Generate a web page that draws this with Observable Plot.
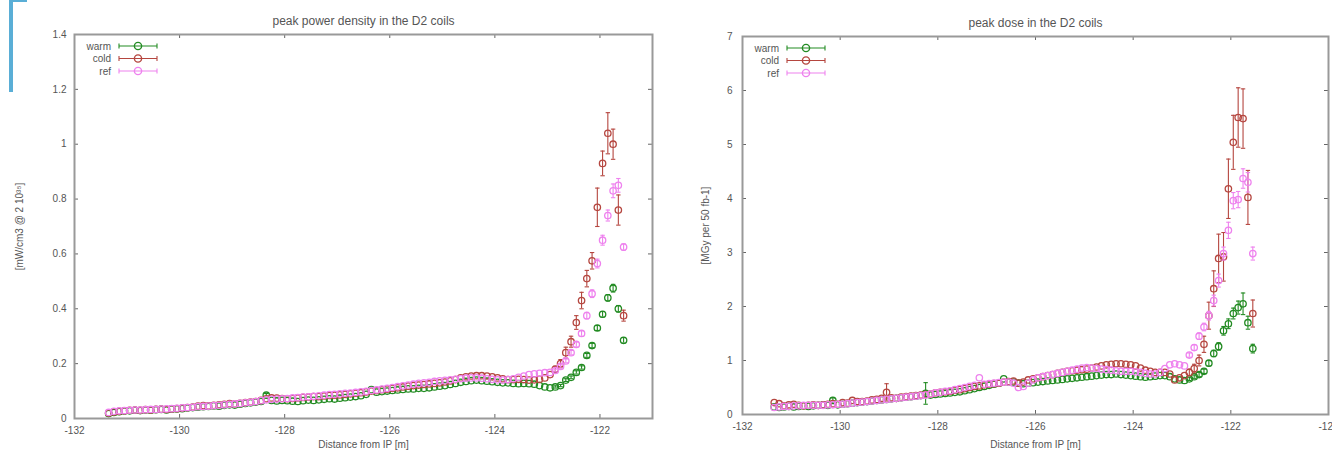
<!DOCTYPE html>
<html><head><meta charset="utf-8">
<script src="https://cdn.jsdelivr.net/npm/d3@7"></script>
<script src="https://cdn.jsdelivr.net/npm/@observablehq/plot@0.6"></script>
<style>
html,body{margin:0;padding:0;background:#fff;}
#wrap{position:relative;width:1332px;height:459px;overflow:hidden;background:#fff;}
#left{position:absolute;left:0;top:0;}
#right{position:absolute;left:660px;top:0;}
#blue{position:absolute;left:9px;top:-1px;width:14px;height:90px;border-left:4px solid #5aaed6;border-top:3px solid #5aaed6;}
</style></head><body>
<div id="wrap"><div id="left"></div><div id="right"></div><div id="blue"></div></div>
<script>
// ---------- data ----------
const seriesNames = ["warm", "cold", "ref"];
const seriesColors = ["#228b22", "#b5463f", "#ee82ee"];

const positions = [
-131.35,-131.25,-131.15,-131.05,-130.95,-130.85,-130.75,-130.65,-130.55,-130.45,
-130.35,-130.25,-130.15,-130.05,-129.95,-129.85,-129.75,-129.65,-129.55,-129.45,
-129.35,-129.25,-129.15,-129.05,-128.95,-128.85,-128.75,-128.65,-128.55,-128.45,
-128.35,-128.25,-128.15,-128.05,-127.95,-127.85,-127.75,-127.65,-127.55,-127.45,
-127.35,-127.25,-127.15,-127.05,-126.95,-126.85,-126.75,-126.65,-126.55,-126.45,
-126.35,-126.25,-126.15,-126.05,-125.95,-125.85,-125.75,-125.65,-125.55,-125.45,
-125.35,-125.25,-125.15,-125.05,-124.95,-124.85,-124.75,-124.65,-124.55,-124.45,
-124.35,-124.25,-124.15,-124.05,-123.95,-123.85,-123.75,-123.65,-123.55,-123.45,
-123.35,-123.25,-123.15,-123.05,-122.95,
-122.85,-122.75,-122.65,-122.55,-122.45,-122.35,-122.25,-122.15,-122.05,-121.95,-121.85,-121.75,-121.65,-121.55];
// positions of the last 14 bins, where error bars are large
const tailPositions = [-122.85,-122.75,-122.65,-122.55,-122.45,-122.35,-122.25,-122.15,-122.05,-121.95,-121.85,-121.75,-121.65,-121.55];

// peak power density [mW/cm3 @ 2 10^35]
const powerWarm = [
0.018,0.022,0.025,0.027,0.028,0.030,0.029,0.031,0.030,0.032,
0.033,0.031,0.034,0.035,0.036,0.038,0.040,0.041,0.043,0.044,
0.046,0.045,0.048,0.050,0.049,0.052,0.055,0.057,0.060,0.062,
0.085,0.066,0.064,0.066,0.065,0.063,0.062,0.065,0.067,0.066,
0.068,0.070,0.072,0.071,0.074,0.076,0.078,0.080,0.083,0.088,
0.105,0.096,0.098,0.100,0.102,0.104,0.106,0.108,0.108,0.110,
0.110,0.112,0.115,0.118,0.120,0.124,0.128,0.132,0.135,0.138,
0.140,0.138,0.136,0.134,0.132,0.130,0.130,0.128,0.127,0.128,
0.127,0.125,0.120,0.115,0.112,
0.115,0.120,0.140,0.150,0.168,0.186,0.230,0.266,0.330,0.380,0.440,0.475,0.400,0.285];
const powerCold = [
0.020,0.024,0.026,0.028,0.030,0.031,0.030,0.032,0.031,0.033,
0.034,0.033,0.035,0.036,0.038,0.040,0.042,0.045,0.047,0.046,
0.048,0.050,0.052,0.054,0.053,0.055,0.058,0.060,0.062,0.066,
0.072,0.075,0.074,0.073,0.072,0.073,0.075,0.077,0.078,0.080,
0.080,0.082,0.084,0.085,0.086,0.088,0.090,0.092,0.094,0.097,
0.100,0.102,0.105,0.107,0.110,0.112,0.115,0.118,0.120,0.122,
0.124,0.126,0.128,0.130,0.133,0.137,0.142,0.148,0.152,0.155,
0.156,0.156,0.155,0.152,0.148,0.145,0.142,0.142,0.143,0.142,
0.140,0.141,0.143,0.148,0.160,
0.180,0.200,0.240,0.280,0.350,0.430,0.510,0.575,0.770,0.930,1.040,1.000,0.760,0.375];
const powerRef = [
0.022,0.026,0.028,0.029,0.030,0.031,0.031,0.032,0.033,0.033,
0.034,0.035,0.036,0.037,0.039,0.040,0.041,0.043,0.044,0.045,
0.047,0.048,0.050,0.052,0.053,0.055,0.057,0.059,0.062,0.065,
0.068,0.070,0.071,0.072,0.073,0.075,0.076,0.078,0.079,0.081,
0.083,0.085,0.087,0.088,0.090,0.092,0.093,0.095,0.097,0.099,
0.102,0.104,0.107,0.110,0.113,0.116,0.119,0.122,0.125,0.128,
0.130,0.132,0.135,0.137,0.139,0.141,0.143,0.145,0.147,0.148,
0.148,0.147,0.145,0.143,0.141,0.140,0.142,0.145,0.150,0.155,
0.160,0.163,0.165,0.167,0.168,
0.175,0.190,0.210,0.240,0.270,0.310,0.375,0.455,0.565,0.650,0.740,0.830,0.850,0.625];
const powerWarmErr = [0.004,0.004,0.005,0.005,0.006,0.006,0.007,0.008,0.009,0.010,0.012,0.014,0.012,0.010];
const powerColdErr = [0.010,0.015,0.020,0.020,0.025,0.030,0.030,0.030,0.070,0.045,0.075,0.055,0.055,0.020];
const powerRefErr  = [0.005,0.006,0.007,0.008,0.009,0.010,0.012,0.014,0.016,0.018,0.020,0.025,0.025,0.012];
const powerExtraErr = [["warm", -128.35, 0.006]];

// peak dose [MGy per 50 fb-1]
const doseWarm = [
0.14,0.13,0.14,0.15,0.14,0.15,0.16,0.15,0.16,0.17,
0.18,0.17,0.26,0.18,0.19,0.20,0.21,0.22,0.23,0.24,
0.25,0.26,0.27,0.28,0.29,0.30,0.31,0.32,0.33,0.34,
0.35,0.39,0.36,0.37,0.38,0.39,0.40,0.41,0.42,0.44,
0.46,0.48,0.50,0.52,0.54,0.56,0.58,0.66,0.60,0.60,
0.58,0.57,0.58,0.59,0.60,0.61,0.62,0.63,0.64,0.65,
0.66,0.67,0.68,0.69,0.70,0.71,0.72,0.73,0.74,0.74,
0.75,0.74,0.73,0.72,0.71,0.70,0.69,0.70,0.71,0.72,
0.72,0.70,0.66,0.64,0.63,
0.66,0.70,0.74,0.80,0.95,1.13,1.26,1.55,1.68,1.87,1.98,2.05,1.70,1.22];
const doseCold = [
0.22,0.20,0.16,0.18,0.19,0.17,0.16,0.17,0.18,0.17,
0.18,0.19,0.20,0.19,0.22,0.21,0.26,0.24,0.24,0.25,
0.27,0.28,0.30,0.41,0.31,0.30,0.32,0.33,0.34,0.35,
0.36,0.37,0.38,0.40,0.41,0.42,0.43,0.45,0.46,0.48,
0.50,0.52,0.53,0.55,0.56,0.57,0.58,0.60,0.61,0.62,
0.58,0.60,0.64,0.66,0.68,0.70,0.72,0.74,0.76,0.78,
0.80,0.81,0.82,0.83,0.84,0.86,0.88,0.90,0.92,0.93,
0.94,0.94,0.93,0.92,0.90,0.86,0.82,0.80,0.78,0.78,
0.78,0.75,0.64,0.68,0.72,
0.78,0.85,1.00,1.30,1.83,2.33,2.89,2.92,4.18,5.04,5.50,5.48,4.02,1.87];
const doseRef = [
0.13,0.14,0.15,0.15,0.16,0.16,0.17,0.17,0.17,0.17,
0.17,0.18,0.18,0.19,0.19,0.20,0.21,0.22,0.23,0.24,
0.25,0.26,0.27,0.28,0.29,0.30,0.31,0.32,0.33,0.34,
0.35,0.36,0.38,0.40,0.41,0.43,0.44,0.46,0.48,0.50,
0.52,0.54,0.68,0.56,0.57,0.58,0.59,0.60,0.60,0.58,
0.50,0.52,0.58,0.64,0.68,0.70,0.72,0.74,0.76,0.78,
0.80,0.82,0.84,0.86,0.87,0.86,0.85,0.84,0.83,0.82,
0.81,0.80,0.80,0.80,0.79,0.78,0.76,0.75,0.75,0.78,
0.85,0.92,0.94,0.92,0.90,
1.10,1.24,1.45,1.62,1.83,2.11,2.48,2.98,3.41,3.96,3.98,4.37,4.30,2.98];
const doseWarmErr = [0.03,0.03,0.04,0.04,0.05,0.06,0.07,0.08,0.09,0.10,0.12,0.20,0.12,0.08];
const doseColdErr = [0.06,0.08,0.10,0.15,0.25,0.33,0.45,0.45,0.55,0.50,0.55,0.55,0.50,0.25];
const doseRefErr  = [0.04,0.05,0.06,0.07,0.08,0.10,0.12,0.12,0.15,0.15,0.15,0.18,0.18,0.12];
const doseExtraErr = [["cold", -129.05, 0.16], ["warm", -128.25, 0.20], ["warm", -130.15, 0.05]];

const powerXTicks = [-132, -130, -128, -126, -124, -122];
const powerYTicks = [0, 0.2, 0.4, 0.6, 0.8, 1, 1.2, 1.4];
const doseXTicks = [-132, -130, -128, -126, -124, -122, -120];
const doseYTicks = [0, 1, 2, 3, 4, 5, 6, 7];

// ---------- drawing ----------
const FONT = "'Liberation Sans', Arial, Helvetica, sans-serif";
const capSymbol = {draw(ctx, size) { const w = Math.sqrt(size / Math.PI); ctx.moveTo(-w, 0); ctx.lineTo(w, 0); }};

function makeRows(values, tailErr, extra, name) {
  return positions.map((x, i) => {
    const t = tailPositions.indexOf(x);
    let e = t >= 0 ? tailErr[t] : 0;
    for (const [s, px, pe] of extra) if (s === name && px === x) e = pe;
    return {x, y: values[i], e};
  });
}

function chart(cfg) {
  const {width, height, ml, mr, mt, mb} = cfg;
  const pw = width - ml - mr, ph = height - mt - mb;
  const marks = [];
  const tickColor = "#666";
  marks.push(Plot.tickX(cfg.xTicks, {x: d => d, insetTop: ph - 4, stroke: tickColor}));
  marks.push(Plot.tickX(cfg.xTicks, {x: d => d, insetBottom: ph - 4, stroke: tickColor}));
  marks.push(Plot.tickY(cfg.yTicks, {y: d => d, insetRight: pw - 4, stroke: tickColor}));
  marks.push(Plot.tickY(cfg.yTicks, {y: d => d, insetLeft: pw - 4, stroke: tickColor}));
  marks.push(Plot.axisX({ticks: cfg.xTicks, tickSize: 0, tickPadding: 8, tickFormat: d => String(d), label: null, fontSize: 10, color: "#555"}));
  marks.push(Plot.axisY({ticks: cfg.yTicks, tickSize: 0, tickPadding: cfg.yPad, tickFormat: d => String(d), label: null, fontSize: 10, color: "#555"}));
  cfg.series.forEach((rows, k) => {
    const col = seriesColors[k];
    const er = rows.filter(d => d.e > 0);
    marks.push(Plot.ruleX(er, {x: "x", y1: d => d.y - d.e, y2: d => d.y + d.e, stroke: col, strokeWidth: 1.1}));
    marks.push(Plot.dot(er, {x: "x", y: d => d.y - d.e, symbol: capSymbol, r: 2.2, stroke: col, fill: "none", strokeWidth: 1.1}));
    marks.push(Plot.dot(er, {x: "x", y: d => d.y + d.e, symbol: capSymbol, r: 2.2, stroke: col, fill: "none", strokeWidth: 1.1}));
    marks.push(Plot.dot(rows, {x: "x", y: "y", r: 3.2, stroke: col, fill: "none", strokeWidth: 1.3}));
  });
  marks.push(Plot.frame({stroke: "#999", strokeWidth: 2}));
  marks.push(Plot.text([cfg.title], {text: d => d, frameAnchor: "top", dy: -18, fontSize: 12, fill: "#555"}));
  marks.push(Plot.text([cfg.xLabel], {text: d => d, frameAnchor: "bottom", dy: cfg.xLabelDy, fontSize: 10, fill: "#555"}));
  marks.push(Plot.text([cfg.yLabel], {text: d => d, frameAnchor: "left", dx: cfg.yLabelDx, rotate: -90, textAnchor: "middle", fontSize: 10, fill: "#555"}));
  const svg = Plot.plot({
    width, height, marginLeft: ml, marginRight: mr, marginTop: mt, marginBottom: mb,
    style: {fontFamily: FONT, fontSize: "10px", background: "white", color: "#555"},
    x: {domain: cfg.xDomain, axis: null},
    y: {domain: cfg.yDomain, axis: null},
    marks
  });
  // key (legend), top-left inside the frame
  const g = d3.select(svg).append("g").attr("font-family", FONT).attr("font-size", 10);
  seriesNames.forEach((name, k) => {
    const y = mt + 12 + k * 12.5, col = seriesColors[k];
    g.append("text").attr("x", ml + 37).attr("y", y).attr("dy", "0.35em").attr("text-anchor", "end").attr("fill", "#555").text(name);
    const x1 = ml + 45, x2 = ml + 83, xc = (x1 + x2) / 2;
    g.append("line").attr("x1", x1).attr("x2", x2).attr("y1", y).attr("y2", y).attr("stroke", col).attr("stroke-width", 1.1);
    g.append("line").attr("x1", x1).attr("x2", x1).attr("y1", y - 2.5).attr("y2", y + 2.5).attr("stroke", col).attr("stroke-width", 1.1);
    g.append("line").attr("x1", x2).attr("x2", x2).attr("y1", y - 2.5).attr("y2", y + 2.5).attr("stroke", col).attr("stroke-width", 1.1);
    g.append("circle").attr("cx", xc).attr("cy", y).attr("r", 3.6).attr("fill", "none").attr("stroke", col).attr("stroke-width", 1.4);
  });
  return svg;
}

const left = chart({
  width: 660, height: 459, ml: 74, mr: 8, mt: 34, mb: 41, yPad: 8,
  xDomain: [-132, -121], yDomain: [0, 1.4], xTicks: powerXTicks, yTicks: powerYTicks,
  title: "peak power density in the D2 coils", xLabel: "Distance from IP [m]", xLabelDy: 29,
  yLabel: "[mW/cm3 @ 2 10\u00B3\u2075]", yLabelDx: -55,
  series: [
    makeRows(powerWarm, powerWarmErr, powerExtraErr, "warm"),
    makeRows(powerCold, powerColdErr, powerExtraErr, "cold"),
    makeRows(powerRef, powerRefErr, powerExtraErr, "ref")]
});
document.getElementById("left").appendChild(left);

const right = chart({
  width: 672, height: 459, ml: 82, mr: 4, mt: 36, mb: 45, yPad: 10,
  xDomain: [-132, -120], yDomain: [0, 7], xTicks: doseXTicks, yTicks: doseYTicks,
  title: "peak dose in the D2 coils", xLabel: "Distance from IP [m]", xLabelDy: 33,
  yLabel: "[MGy per 50 fb-1]", yLabelDx: -37,
  series: [
    makeRows(doseWarm, doseWarmErr, doseExtraErr, "warm"),
    makeRows(doseCold, doseColdErr, doseExtraErr, "cold"),
    makeRows(doseRef, doseRefErr, doseExtraErr, "ref")]
});
document.getElementById("right").appendChild(right);
</script>
</body></html>
